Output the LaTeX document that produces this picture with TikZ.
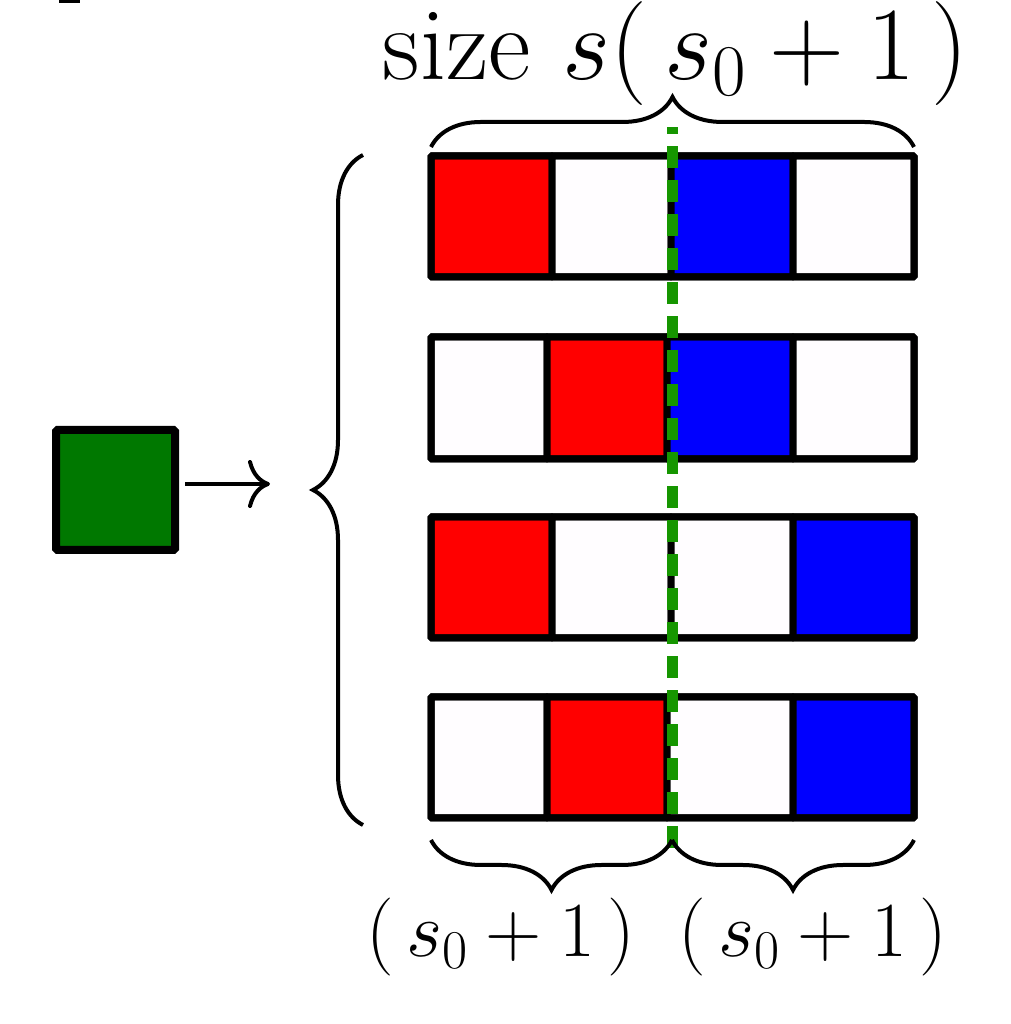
\RequirePackage{fix-cm}
\documentclass[tikz,border=0pt]{standalone}
\usetikzlibrary{decorations.pathreplacing,arrows.meta}
\definecolor{cred}{RGB}{255,0,0}
\definecolor{cblue}{RGB}{0,0,255}
\definecolor{cwhite}{RGB}{255,253,255}
\definecolor{csq}{RGB}{0,120,0}
\definecolor{cdash}{RGB}{22,150,0}
\begin{document}
\begin{tikzpicture}[x=1pt,y=1pt,
  cell/.style={draw=black,line width=7pt,rounded corners=1pt},
  bracestyle/.style={decorate,decoration={brace,amplitude=50pt},line width=4pt},
  mbrace/.style={decorate,decoration={brace,amplitude=50pt,mirror},line width=4pt},
  big/.style={font=\fontsize{104}{120}\selectfont,inner sep=0pt},
  mid/.style={font=\fontsize{78}{90}\selectfont,inner sep=0pt}]
\useasboundingbox (0,0) rectangle (1010,1024);
% tiny mark top left
\fill (59,1021) rectangle (80,1024);
% rows
\foreach \yb/\yt/\xa/\xb/\fa/\fb/\fc/\fd in {
  747/868/552/671/cred/cwhite/cblue/cwhite,
  565/687/547/667/cwhite/cred/cblue/cwhite,
  386/507/552/671/cred/cwhite/cwhite/cblue,
  206/327/547/667/cwhite/cred/cwhite/cblue}{
  \draw[cell,fill=\fa] (431,\yb) rectangle (\xa,\yt);
  \draw[cell,fill=\fb] (\xa,\yb) rectangle (\xb,\yt);
  \draw[cell,fill=\fc] (\xb,\yb) rectangle (793,\yt);
  \draw[cell,fill=\fd] (793,\yb) rectangle (914,\yt);
  \draw[cell] (431,\yb) rectangle (914,\yt);
}
% green dashed line
\coordinate (dbot) at (672,176);
\coordinate (dtop) at (672,897);
\draw[cdash,line width=11pt,dash pattern=on 22pt off 12pt] (dbot) -- (dtop);
% braces
\draw[bracestyle] (431,877) -- (914,877);
\draw[mbrace] (431,184) -- (672,184);
\draw[mbrace] (672,184) -- (914,184);
\draw[bracestyle] (363,199) -- (363,869);
% green square and arrow
\node[draw=black,fill=csq,line width=8pt,rounded corners=1.5pt,minimum width=119pt,minimum height=120pt,inner sep=0pt] (sq) at (115.5,534) {};
\coordinate (aend) at (270,540);
\draw[line width=4pt,-{Computer Modern Rightarrow[length=22pt,width=48pt]}] ([xshift=6pt]sq.east |- aend) -- (aend);
% labels
\node[big,anchor=base] (title) at (676,944) {size $s(\,s_0+1\,)$};
\node[mid,anchor=base] (lab1) at (501,67) {$(\,s_0+1\,)$};
\node[mid,anchor=base] (lab2) at (813,67) {$(\,s_0+1\,)$};
\end{tikzpicture}
\end{document}
